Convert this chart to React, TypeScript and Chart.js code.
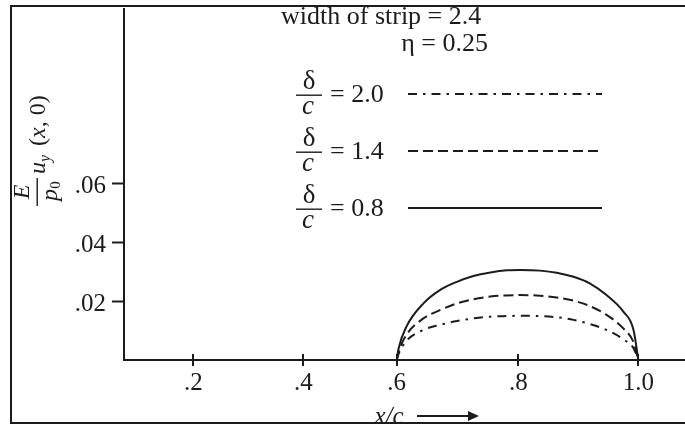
import React, { useEffect, useRef } from 'react';
import { Chart, registerables, LinearScale } from 'chart.js';

// ---- data ----
const X_VALUES = [0.6, 0.603, 0.616, 0.644, 0.671, 0.699, 0.726, 0.754, 0.781, 0.803, 0.836, 0.864, 0.892, 0.919, 0.947, 0.975, 0.992, 1.0];
const SERIES_08 = [0, 0.0038, 0.0113, 0.0192, 0.0237, 0.0265, 0.0285, 0.0297, 0.0304, 0.0305, 0.0303, 0.0296, 0.0282, 0.026, 0.022, 0.0164, 0.0102, 0];
const SERIES_14 = [0, 0.0027, 0.0085, 0.0141, 0.0169, 0.0192, 0.0206, 0.0215, 0.0219, 0.022, 0.0218, 0.0212, 0.0201, 0.0183, 0.0153, 0.0107, 0.006, 0];
const SERIES_20 = [0, 0.002, 0.0065, 0.0102, 0.0119, 0.0132, 0.0141, 0.0147, 0.0149, 0.015, 0.0149, 0.0145, 0.0136, 0.0122, 0.0102, 0.007, 0.004, 0];
const DELTA_LABELS = ['0.8', '1.4', '2.0'];
const X_TICKS = [0.2, 0.4, 0.6, 0.8, 1.0];
const X_TICK_LABELS = ['.2', '.4', '.6', '.8', '1.0'];
const Y_TICKS = [0.02, 0.04, 0.06];
const Y_TICK_LABELS = ['.02', '.04', '.06'];
const STRIP_WIDTH = '2.4';
const ETA = '0.25';

// uneven tick spacing of the original axis: [value, fraction of axis length]
const X_AXIS_ANCHORS = [[0.074, 0], [0.2, 0.1235], [0.4, 0.3196], [0.6, 0.4861], [0.8, 0.7029], [1.0, 0.9168], [1.078, 1]];

class StripScale extends LinearScale {
  static id = 'strip';
  static defaults = LinearScale.defaults;
  getPixelForValue(value: any) {
    if (value === null || value === undefined || isNaN(value)) return NaN;
    const a = X_AXIS_ANCHORS;
    let i = 0;
    while (i < a.length - 2 && value > a[i + 1][0]) i++;
    const v0 = a[i][0], d0 = a[i][1], v1 = a[i + 1][0], d1 = a[i + 1][1];
    const dec = d0 + ((value - v0) / (v1 - v0)) * (d1 - d0);
    return this.getPixelForDecimal(dec);
  }
  getValueForPixel(pixel: number) {
    const dec = this.getDecimalForPixel(pixel);
    const a = X_AXIS_ANCHORS;
    let i = 0;
    while (i < a.length - 2 && dec > a[i + 1][1]) i++;
    const v0 = a[i][0], d0 = a[i][1], v1 = a[i + 1][0], d1 = a[i + 1][1];
    return v0 + ((dec - d0) / (d1 - d0)) * (v1 - v0);
  }
}

Chart.register(...registerables, StripScale as any);

const INK = '#1c1c1c';
const SERIF = '"Liberation Serif", "Times New Roman", serif';

const DASHES = [[], [10, 5], [9, 6, 2.5, 6]];

const decorPlugin = {
  id: 'decor',
  afterDraw(chart: any) {
    const ctx = chart.ctx;
    const area = chart.chartArea;
    const xs = chart.scales.x;
    ctx.save();
    ctx.fillStyle = INK;
    ctx.strokeStyle = INK;

    // crossing tick marks on the x axis
    ctx.lineWidth = 2;
    ctx.setLineDash([]);
    xs.ticks.forEach((_t: any, i: number) => {
      const px = Math.round(xs.getPixelForTick(i));
      ctx.beginPath();
      ctx.moveTo(px, area.bottom - 6);
      ctx.lineTo(px, area.bottom + 6);
      ctx.stroke();
    });

    // header texts
    ctx.textBaseline = 'alphabetic';
    ctx.font = `26px ${SERIF}`;
    ctx.textAlign = 'left';
    ctx.fillText(`width of strip = ${STRIP_WIDTH}`, 281, 24);
    ctx.textAlign = 'right';
    ctx.fillText(`\u03B7 = ${ETA}`, 488, 51);

    // legend: top row is the last dataset
    const n = chart.data.datasets.length;
    for (let r = 0; r < n; r++) {
      const di = n - 1 - r;
      const ds = chart.data.datasets[di];
      const rowY = 95 + 57 * r;
      ctx.textAlign = 'center';
      ctx.font = `27px ${SERIF}`;
      ctx.fillText('\u03B4', 309, rowY - 6);
      ctx.fillRect(296, rowY - 0.5, 26, 1.4);
      ctx.font = `italic 27px ${SERIF}`;
      ctx.fillText('c', 308, rowY + 19);
      ctx.textAlign = 'left';
      ctx.font = `26px ${SERIF}`;
      ctx.fillText(`= ${DELTA_LABELS[di]}`, 330, rowY + 7);
      ctx.lineWidth = 2;
      ctx.setLineDash(ds.borderDash || []);
      ctx.beginPath();
      ctx.moveTo(408, rowY - 1);
      ctx.lineTo(602, rowY - 1);
      ctx.stroke();
      ctx.setLineDash([]);
    }

    // y axis title (rotated)
    ctx.save();
    ctx.translate(0, 210);
    ctx.rotate(-Math.PI / 2);
    ctx.textAlign = 'center';
    ctx.font = `italic 24px ${SERIF}`;
    ctx.fillText('E', 18, 29);
    ctx.fillRect(4, 36.5, 28, 1.4);
    ctx.fillText('p', 15, 57);
    ctx.font = `15px ${SERIF}`;
    ctx.fillText('0', 25, 60);
    ctx.textAlign = 'left';
    ctx.font = `italic 24px ${SERIF}`;
    ctx.fillText('u', 36, 45);
    let a = 36 + ctx.measureText('u').width;
    ctx.font = `italic 16px ${SERIF}`;
    ctx.fillText('y', a, 50);
    a = 64;
    ctx.font = `24px ${SERIF}`;
    ctx.fillText('(', a, 45);
    a += ctx.measureText('(').width;
    ctx.font = `italic 24px ${SERIF}`;
    ctx.fillText('x', a, 45);
    a += ctx.measureText('x').width;
    ctx.font = `24px ${SERIF}`;
    ctx.fillText(', 0)', a, 45);
    ctx.restore();

    // x axis title with arrow
    ctx.textAlign = 'center';
    ctx.font = `italic 25px ${SERIF}`;
    ctx.fillText('x/c', 389, 424);
    ctx.lineWidth = 2;
    ctx.beginPath();
    ctx.moveTo(417, 416);
    ctx.lineTo(470, 416);
    ctx.stroke();
    ctx.beginPath();
    ctx.moveTo(468, 411);
    ctx.lineTo(479, 416);
    ctx.lineTo(468, 421);
    ctx.closePath();
    ctx.fill();

    // outer frame
    ctx.fillStyle = '#ffffff';
    ctx.fillRect(0, 424, 685, 2);
    ctx.strokeStyle = INK;
    ctx.lineWidth = 2;
    ctx.strokeRect(11, 6, 700, 417);
    ctx.restore();
  },
};

export default function App() {
  const ref = useRef<HTMLCanvasElement | null>(null);
  useEffect(() => {
    if (!ref.current) return;
    const mk = (ys: number[]) => X_VALUES.map((x, i) => ({ x, y: ys[i] }));
    const chart = new Chart(ref.current, {
      type: 'line',
      data: {
        datasets: [
          { label: DELTA_LABELS[0], data: mk(SERIES_08), borderDash: DASHES[0] },
          { label: DELTA_LABELS[1], data: mk(SERIES_14), borderDash: DASHES[1] },
          { label: DELTA_LABELS[2], data: mk(SERIES_20), borderDash: DASHES[2] },
        ].map((d) => ({
          ...d,
          borderColor: INK,
          borderWidth: 2,
          pointRadius: 0,
          fill: false,
          cubicInterpolationMode: 'monotone' as const,
        })),
      },
      options: {
        animation: false,
        responsive: false,
        devicePixelRatio: 1,
        layout: { autoPadding: false, padding: { left: 0, top: 9, right: 0, bottom: 0 } },
        plugins: { legend: { display: false }, tooltip: { enabled: false }, title: { display: false } },
        scales: {
          x: {
            type: 'strip' as any,
            min: 0.074,
            max: 1.078,
            afterBuildTicks: (s: any) => { s.ticks = X_TICKS.map((v) => ({ value: v })); },
            afterFit: (s: any) => { s.height = 66; s.paddingLeft = 0; s.paddingRight = 0; },
            grid: { display: false, drawTicks: false },
            border: { display: true, color: INK, width: 2 },
            ticks: {
              padding: 8,
              color: INK,
              font: { family: SERIF, size: 25 },
              maxRotation: 0,
              autoSkip: false,
              callback: (_v: any, i: number) => X_TICK_LABELS[i],
            },
          },
          y: {
            type: 'linear',
            min: 0,
            max: 0.119,
            afterBuildTicks: (s: any) => { s.ticks = Y_TICKS.map((v) => ({ value: v })); },
            afterFit: (s: any) => { s.width = 124; s.paddingTop = 0; s.paddingBottom = 0; },
            grid: { display: true, drawOnChartArea: false, drawTicks: true, tickLength: 12, tickColor: INK, tickWidth: 2, color: INK },
            border: { display: true, color: INK, width: 2 },
            ticks: {
              padding: 6,
              labelOffset: 3,
              color: INK,
              font: { family: SERIF, size: 25 },
              autoSkip: false,
              callback: (_v: any, i: number) => Y_TICK_LABELS[i],
            },
          },
        },
      },
      plugins: [decorPlugin],
    });
    return () => chart.destroy();
  }, []);
  return (
    <div style={{ position: 'absolute', left: 0, top: 0, width: 685, height: 426, background: '#fff' }}>
      <canvas ref={ref} width={685} height={426} />
    </div>
  );
}
